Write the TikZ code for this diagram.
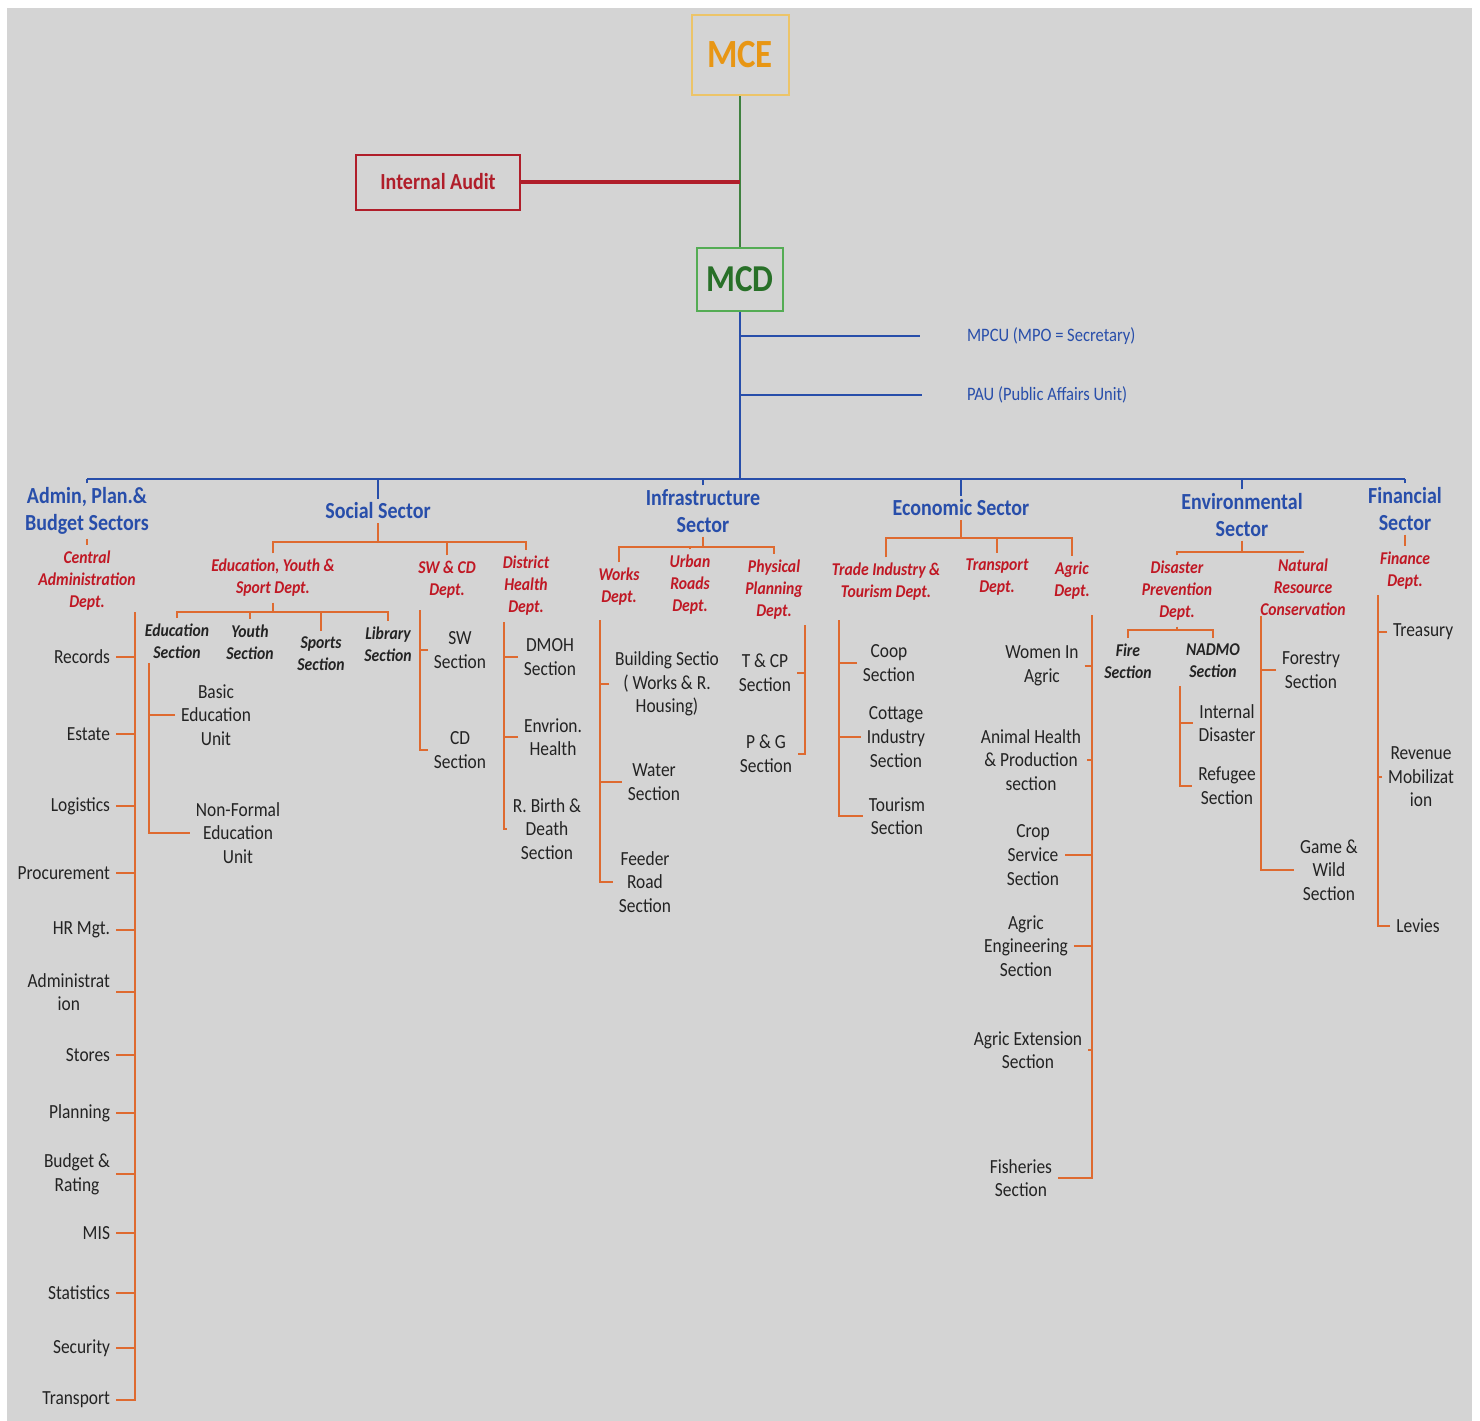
\documentclass[tikz,border=0pt]{standalone}
\usepackage{fontspec}
\setmainfont{Carlito}[FakeStretch=0.87]
\definecolor{orgbg}{RGB}{212,212,212}
\definecolor{orgblue}{RGB}{40,78,170}
\definecolor{orgorange}{RGB}{222,106,48}
\definecolor{orgred}{RGB}{192,24,36}
\definecolor{orgtext}{RGB}{35,35,35}
\definecolor{mcegold}{RGB}{232,150,20}
\definecolor{mceframe}{RGB}{236,196,104}
\definecolor{mcdgreen}{RGB}{40,112,40}
\definecolor{mcdframe}{RGB}{84,172,84}
\definecolor{auditred}{RGB}{176,30,42}

\begin{document}
\begin{tikzpicture}[x=0.5pt,y=-0.5pt,
    sector/.style={font=\fontsize{11.5}{13.5}\selectfont\bfseries,text=orgblue,align=center,inner sep=1pt,outer sep=1pt},
    dept/.style={font=\fontsize{9}{11}\selectfont\bfseries\itshape,text=orgred,align=center,inner sep=1pt,outer sep=2pt},
    subsec/.style={dept,text=orgtext},
    unit/.style={font=\fontsize{10}{11.8}\selectfont,text=orgtext,align=center,inner sep=1pt,outer sep=2pt},
    bline/.style={draw=orgblue,line width=1.3pt},
    oline/.style={draw=orgorange,line width=1.2pt}]
    \useasboundingbox (0,0) rectangle (1480,1421);
    \fill[white] (0,0) rectangle (1480,1421);
    \fill[orgbg] (7,8) rectangle (1472,1421);

    % Top of the chart
    \node[draw=mceframe,line width=1pt,minimum width=48.5pt,minimum height=40pt,text=mcegold,
          font=\fontsize{20}{24}\selectfont\bfseries] (mce) at (740,55) {MCE};
    \node[draw=auditred,line width=1pt,minimum width=82pt,minimum height=27.5pt,text=auditred,
          font=\fontsize{11.5}{14}\selectfont\bfseries] (audit) at (438,182) {Internal Audit};
    \node[draw=mcdframe,line width=1pt,minimum width=43pt,minimum height=31.5pt,text=mcdgreen,
          font=\fontsize{19}{23}\selectfont\bfseries] (mcd) at (740,279) {MCD};
    \draw[draw=mcdframe!75!black,line width=1pt] (mce.south) -- (mcd.north);
    \draw[draw=auditred,line width=1.8pt] (audit.east) -- (audit.east -| mce.south);

    \node[font=\fontsize{9.5}{11}\selectfont,text=orgblue,anchor=west] (mpcu) at (960,336) {MPCU (MPO = Secretary)};
    \node[font=\fontsize{9.5}{11}\selectfont,text=orgblue,anchor=west] (pau) at (960,395) {PAU (Public Affairs Unit)};
    \draw[bline] (mcd.south |- mpcu.west) -- ([xshift=-20pt]mpcu.west);
    \draw[bline] (mcd.south |- pau.west) -- ([xshift=-19pt]pau.west);

    % Sectors
    \node[sector] (adm) at (87,511) {Admin, Plan.\&\\Budget Sectors};
    \node[sector] (soc) at (378,511) {Social Sector};
    \node[sector] (inf) at (703,511) {Infrastructure\\Sector};
    \node[sector] (eco) at (961,508) {Economic Sector};
    \node[sector] (env) at (1242,515) {Environmental\\Sector};
    \node[sector] (fin) at (1405,509) {Financial\\Sector};
    \coordinate (busl) at (87,479);
    \coordinate (busr) at (1405,479);
    \draw[bline] (mcd.south) -- (mcd.south |- busl);
    \draw[bline] (busl) -- (busr);
    \foreach \s in {adm,soc,inf,eco,env,fin}
      \draw[bline] (\s.north) -- (\s.north |- busl);

    % Departments
    \node[dept] (cad) at (87,581) {Central\\Administration\\Dept.};
    \node[dept] (eys) at (273,578) {Education, Youth \&\\Sport Dept.};
    \node[dept] (swcd) at (447,580) {SW \& CD\\Dept.};
    \node[dept] (dhd) at (526,586) {District\\Health\\Dept.};
    \node[dept] (wrk) at (619,587) {Works\\Dept.};
    \node[dept] (urd) at (690,585) {Urban\\Roads\\Dept.};
    \node[dept] (ppd) at (774,590) {Physical\\Planning\\Dept.};
    \node[dept] (tit) at (886,582) {Trade Industry \&\\Tourism Dept.};
    \node[dept] (trd) at (997,577) {Transport\\Dept.};
    \node[dept] (agd) at (1072,581) {Agric\\Dept.};
    \node[dept] (dpd) at (1177,591) {Disaster\\Prevention\\Dept.};
    \node[dept] (nrc) at (1303,587) {Natural\\Resource\\Conservation};
    \node[dept] (fnd) at (1405,571) {Finance\\Dept.};

    % Admin sector
    \draw[oline] (adm.south) -- (cad.north);
    \coordinate (cadtop) at (135,612);
    \foreach \nm/\yy/\txt in {rec/657/Records,est/734/Estate,lgs/806/Logistics,prc/873/Procurement,
        hrm/930/HR Mgt.,adn/992/{Administrat\\ion},sto/1055/Stores,pln/1113/Planning,
        bud/1174/{Budget \&\\Rating},mis/1233/MIS,sta/1293/Statistics,scr/1348/Security,trn/1400/Transport}{
      \node[unit,anchor=east] (\nm) at (116,\yy) {\txt};
      \draw[oline] (\nm.east) -- (\nm.east -| cadtop);
    }
    \draw[oline] (cadtop) |- (trn.east);

    % Social sector
    \coordinate (socbar) at (378,542);
    \draw[oline] (soc.south) -- (socbar);
    \draw[oline] (eys.north) |- (socbar) -| (dhd.north);
    \draw[oline] (swcd.north) -- (swcd.north |- socbar);

    \node[subsec] (eds) at (177,641) {Education\\Section};
    \node[subsec] (yth) at (250,642) {Youth\\Section};
    \node[subsec] (spt) at (321,654) {Sports\\Section};
    \node[subsec] (lib) at (388,644) {Library\\Section};
    \coordinate (eysbar) at (273,612);
    \draw[oline] (eys.south) -- (eysbar);
    \draw[oline] (eds.north) |- (eysbar) -| (lib.north);
    \draw[oline] (yth.north) -- (yth.north |- eysbar);
    \draw[oline] (spt.north) -- (spt.north |- eysbar);

    \node[unit] (beu) at (216,715) {Basic\\Education\\Unit};
    \node[unit] (nfe) at (238,833) {Non-Formal\\Education\\Unit};
    \coordinate (edstop) at (149,663);
    \draw[oline] (beu.west) -- (beu.west -| edstop);
    \draw[oline] (edstop) |- (nfe.west);

    \node[unit] (sws) at (460,650) {SW\\Section};
    \node[unit] (cds) at (460,750) {CD\\Section};
    \coordinate (swtop) at (420,610);
    \draw[oline] (sws.west) -- (sws.west -| swtop);
    \draw[oline] (swtop) |- (cds.west);

    \node[unit] (dmoh) at (550,657) {DMOH\\Section};
    \node[unit] (envh) at (553,737) {Envrion.\\Health};
    \node[unit] (rbd) at (547,829) {R. Birth \&\\Death\\Section};
    \coordinate (dhtop) at (504,622);
    \draw[oline] (dmoh.west) -- (dmoh.west -| dhtop);
    \draw[oline] (envh.west) -- (envh.west -| dhtop);
    \draw[oline] (dhtop) |- (rbd.west);

    % Infrastructure sector
    \coordinate (infbar) at (703,547);
    \draw[oline] (inf.south) -- (infbar);
    \draw[oline] (wrk.north) |- (infbar) -| (ppd.north);
    \draw[oline] (urd.north) -- (urd.north |- infbar);

    \node[unit] (bld) at (667,684) {Building Sectio\\( Works \& R.\\Housing)};
    \node[unit] (wat) at (654,782) {Water\\Section};
    \node[unit] (fdr) at (645,882) {Feeder\\Road\\Section};
    \coordinate (wrktop) at (600,620);
    \draw[oline] (bld.west) -- (bld.west -| wrktop);
    \draw[oline] (wat.west) -- (wat.west -| wrktop);
    \draw[oline] (wrktop) |- (fdr.west);

    \node[unit] (tcp) at (765,673) {T \& CP\\Section};
    \node[unit] (pgs) at (766,754) {P \& G\\Section};
    \coordinate (pptop) at (805,625);
    \draw[oline] (tcp.east) -- (tcp.east -| pptop);
    \draw[oline] (pptop) |- (pgs.east);

    % Economic sector
    \coordinate (ecobar) at (961,538);
    \draw[oline] (eco.south) -- (ecobar);
    \draw[oline] (tit.north) |- (ecobar) -| (agd.north);
    \draw[oline] (trd.north) -- (trd.north |- ecobar);

    \node[unit] (coop) at (889,663) {Coop\\Section};
    \node[unit] (cot) at (896,737) {Cottage\\Industry\\Section};
    \node[unit] (tou) at (897,816) {Tourism\\Section};
    \coordinate (tittop) at (839,620);
    \draw[oline] (coop.west) -- (coop.west -| tittop);
    \draw[oline] (cot.west) -- (cot.west -| tittop);
    \draw[oline] (tittop) |- (tou.west);

    \node[unit] (wia) at (1042,666) {Women In\\Agric};
    \node[unit] (ahp) at (1031,760) {Animal Health\\\& Production\\section};
    \node[unit] (crp) at (1033,855) {Crop\\Service\\Section};
    \node[unit] (aen) at (1026,946) {Agric\\Engineering\\Section};
    \node[unit] (aex) at (1028,1050) {Agric Extension\\Section};
    \node[unit] (fsh) at (1021,1178) {Fisheries\\Section};
    \coordinate (agtop) at (1092,615);
    \foreach \nm in {wia,ahp,crp,aen,aex}
      \draw[oline] (\nm.east) -- (\nm.east -| agtop);
    \draw[oline] (agtop) |- (fsh.east);

    % Environmental sector
    \coordinate (envbar) at (1242,552);
    \draw[oline] (env.south) -- (envbar);
    \draw[oline] (dpd.north) |- (envbar) -| (nrc.north);

    \node[subsec] (fire) at (1128,661) {Fire\\Section};
    \node[subsec] (nad) at (1213,661) {NADMO\\Section};
    \coordinate (dpdbar) at (1177,630);
    \draw[oline] (dpd.south) -- (dpdbar);
    \draw[oline] (fire.north) |- (dpdbar) -| (nad.north);

    \node[unit] (ind) at (1227,723) {Internal\\Disaster};
    \node[unit] (ref) at (1227,786) {Refugee\\Section};
    \coordinate (nadtop) at (1180,686);
    \draw[oline] (ind.west) -- (ind.west -| nadtop);
    \draw[oline] (nadtop) |- (ref.west);

    \node[unit] (frs) at (1311,670) {Forestry\\Section};
    \node[unit] (gws) at (1329,870) {Game \&\\Wild\\Section};
    \coordinate (nrctop) at (1261,616);
    \draw[oline] (frs.west) -- (frs.west -| nrctop);
    \draw[oline] (nrctop) |- (gws.west);

    % Financial sector
    \draw[oline] (fin.south) -- (fnd.north);
    \node[unit,anchor=west] (trs) at (1387,632) {Treasury};
    \node[unit] (rev) at (1421,777) {Revenue\\Mobilizat\\ion};
    \node[unit] (lev) at (1418,926) {Levies};
    \coordinate (fndtop) at (1378,595);
    \draw[oline] (trs.west) -- (trs.west -| fndtop);
    \draw[oline] (rev.west) -- (rev.west -| fndtop);
    \draw[oline] (fndtop) |- (lev.west);
\end{tikzpicture}
\end{document}
